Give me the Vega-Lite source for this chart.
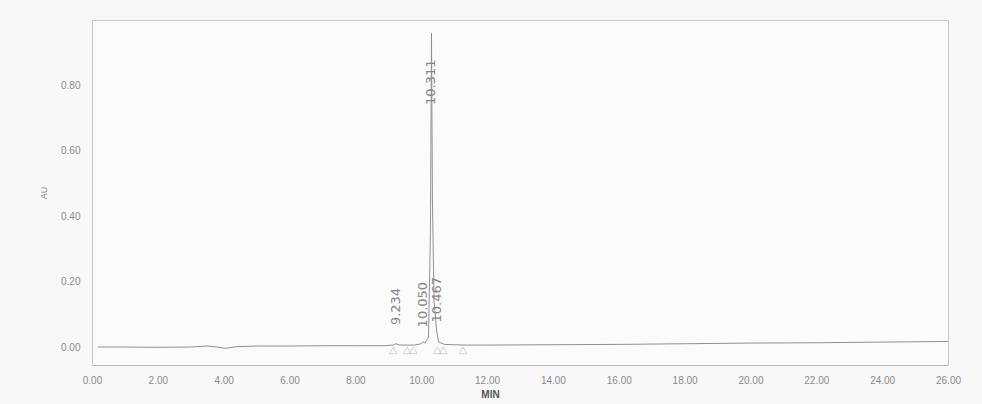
{
  "$schema": "https://vega.github.io/schema/vega-lite/v6.json",
  "autosize": {"type": "none"},
  "width": 856,
  "height": 345,
  "padding": {"left": 92, "top": 20, "right": 34, "bottom": 39},
  "background": "#f8f8f9",
  "config": {
    "view": {"stroke": "#c8c8c8", "strokeWidth": 1, "fill": "#fbfbfc"},
    "font": "Liberation Sans"
  },
  "datasets": {
    "trace": [
      {"min": 0.18, "au": 0.0},
      {"min": 1.0, "au": 0.0},
      {"min": 2.0, "au": -0.001},
      {"min": 3.0, "au": 0.0},
      {"min": 3.5, "au": 0.003},
      {"min": 3.8, "au": 0.0},
      {"min": 4.05, "au": -0.004},
      {"min": 4.4, "au": 0.001},
      {"min": 5.0, "au": 0.003},
      {"min": 6.0, "au": 0.003},
      {"min": 7.0, "au": 0.004},
      {"min": 8.0, "au": 0.004},
      {"min": 8.9, "au": 0.004},
      {"min": 9.15, "au": 0.006},
      {"min": 9.234, "au": 0.01},
      {"min": 9.35, "au": 0.006},
      {"min": 9.8, "au": 0.006},
      {"min": 10.0, "au": 0.01},
      {"min": 10.05, "au": 0.016},
      {"min": 10.12, "au": 0.012},
      {"min": 10.22, "au": 0.03},
      {"min": 10.28, "au": 0.35},
      {"min": 10.311, "au": 0.96},
      {"min": 10.34, "au": 0.45},
      {"min": 10.39, "au": 0.14},
      {"min": 10.467, "au": 0.05},
      {"min": 10.53, "au": 0.015},
      {"min": 10.7, "au": 0.008},
      {"min": 11.3, "au": 0.006},
      {"min": 12.0, "au": 0.006},
      {"min": 14.0, "au": 0.007},
      {"min": 16.0, "au": 0.008},
      {"min": 18.0, "au": 0.01},
      {"min": 20.0, "au": 0.012},
      {"min": 22.0, "au": 0.013},
      {"min": 24.0, "au": 0.015},
      {"min": 26.0, "au": 0.017}
    ],
    "peaks": [
      {"min": 9.234, "au": 0.067, "label": "9.234"},
      {"min": 10.05, "au": 0.06, "label": "10.050"},
      {"min": 10.311, "au": 0.74, "label": "10.311"},
      {"min": 10.467, "au": 0.075, "label": "10.467"}
    ],
    "marks": [
      {"min": 9.15, "au": -0.01},
      {"min": 9.57, "au": -0.01},
      {"min": 9.76, "au": -0.01},
      {"min": 10.49, "au": -0.01},
      {"min": 10.67, "au": -0.01},
      {"min": 11.27, "au": -0.01}
    ]
  },
  "layer": [
    {
      "data": {"name": "trace"},
      "mark": {"type": "line", "color": "#909090", "strokeWidth": 1, "clip": true},
      "encoding": {
        "x": {
          "field": "min", "type": "quantitative",
          "scale": {"domain": [0, 26], "nice": false, "zero": false},
          "axis": {
            "values": [0, 2, 4, 6, 8, 10, 12, 14, 16, 18, 20, 22, 24, 26],
            "format": ".2f", "grid": false, "ticks": false,
            "domainColor": "#b8b8b8", "labelColor": "#8a8a8a", "labelFontSize": 10,
            "labelPadding": 10, "labelFlush": false,
            "title": "MIN", "titleColor": "#555555", "titleFontSize": 10, "titleFontWeight": "bold",
            "titlePadding": 4, "titleX": 398
          }
        },
        "y": {
          "field": "au", "type": "quantitative",
          "scale": {"domain": [-0.055, 1.0], "nice": false, "zero": false},
          "axis": {
            "values": [0, 0.2, 0.4, 0.6, 0.8],
            "format": ".2f", "grid": false, "ticks": false,
            "domainColor": "#c8c8c8", "labelColor": "#8a8a8a", "labelFontSize": 10,
            "labelPadding": 12,
            "title": "AU", "titleColor": "#8a8a8a", "titleFontSize": 9, "titleFontWeight": "normal",
            "titlePadding": 12
          }
        }
      }
    },
    {
      "data": {"name": "peaks"},
      "mark": {"type": "text", "angle": 270, "align": "left", "baseline": "middle", "font": "DejaVu Sans", "fontSize": 13, "color": "#858585"},
      "encoding": {
        "x": {"field": "min", "type": "quantitative"},
        "y": {"field": "au", "type": "quantitative"},
        "text": {"field": "label"}
      }
    },
    {
      "data": {"name": "marks"},
      "mark": {"type": "point", "shape": "triangle-up", "filled": false, "size": 60, "color": "#c4c4c4", "strokeWidth": 1},
      "encoding": {
        "x": {"field": "min", "type": "quantitative"},
        "y": {"field": "au", "type": "quantitative"}
      }
    }
  ]
}
